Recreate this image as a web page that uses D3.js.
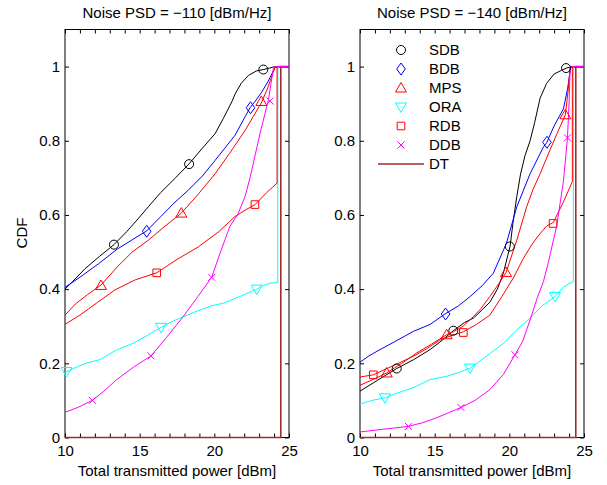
<!DOCTYPE html>
<html>
<head>
<meta charset="utf-8">
<script src="https://cdn.jsdelivr.net/npm/d3@7"></script>
<style>
  body { margin: 0; background: #fff; }
  text { font-family: "Liberation Sans", Arial, Helvetica, sans-serif; fill: #000; }
</style>
</head>
<body>
<div class="svg_area"></div>
<script>
// CDF of total transmitted power, two noise levels

// Tick values / labels
var xTicks = [10, 11, 12, 13, 14, 15, 16, 17, 18, 19, 20, 21, 22, 23, 24, 25];
var xTickLabels = [10, 15, 20, 25];
var yTicks = [0, 0.2, 0.4, 0.6, 0.8, 1];
var yTickLabels = ["0", "0.2", "0.4", "0.6", "0.8", "1"];
var seriesNames = ["SDB", "BDB", "MPS", "ORA", "RDB", "DDB", "DT"];

// ---- Noise PSD = -110 dBm/Hz ----
var sdb110 = [[10,0.40],[10.5,0.42],[11.34,0.455],[12.3,0.488],[13.28,0.52],[14.13,0.555],[14.9,0.59],[15.58,0.622],[16.4,0.66],[17.4,0.70],[18.31,0.738],[19.2,0.78],[20.05,0.819],[20.6,0.86],[21.17,0.905],[21.39,0.926],[21.8,0.955],[22.28,0.976],[22.8,0.988],[23.28,0.992],[23.7,0.996],[24.07,1],[25,1]];
var bdb110 = [[10,0.405],[11,0.432],[12.23,0.468],[13.5,0.508],[14.5,0.533],[15.47,0.557],[16.4,0.595],[17.3,0.632],[18.26,0.667],[19.2,0.705],[20.05,0.747],[20.7,0.78],[21.39,0.815],[22.06,0.865],[22.39,0.889],[22.8,0.91],[23.17,0.931],[23.6,0.96],[24.07,0.998],[25,1]];
var mps110 = [[10,0.33],[10.7,0.36],[11.5,0.385],[12.41,0.411],[13.5,0.46],[14.5,0.50],[15.58,0.532],[16.7,0.57],[17.77,0.604],[18.9,0.655],[20.05,0.711],[21.0,0.765],[21.39,0.788],[22.06,0.828],[22.6,0.865],[23.17,0.904],[23.6,0.945],[24.07,1],[25,1]];
var ora110 = [[10,0.175],[10.5,0.185],[11.4,0.20],[12.34,0.21],[13.4,0.235],[14.57,0.254],[15.5,0.275],[16.43,0.297],[17.3,0.315],[18.2,0.33],[19.04,0.344],[19.8,0.355],[20.6,0.362],[21.7,0.38],[22.84,0.40],[23.3,0.41],[23.73,0.416],[24.25,0.418],[24.25,1],[25,1]];
var rdb110 = [[10,0.305],[11,0.33],[12.2,0.365],[13.35,0.398],[14.7,0.425],[16.14,0.444],[17.5,0.48],[18.93,0.514],[20.3,0.555],[21.39,0.596],[22.06,0.613],[22.73,0.628],[23.5,0.66],[24.2,0.686],[24.2,1],[25,1]];
var ddb110 = [[10,0.068],[10.8,0.08],[11.83,0.10],[12.6,0.125],[13.46,0.156],[14.6,0.19],[15.76,0.22],[16.8,0.27],[17.88,0.324],[18.9,0.38],[19.82,0.432],[20.5,0.51],[21.05,0.57],[21.6,0.604],[22.06,0.65],[22.39,0.70],[23.06,0.82],[23.62,0.91],[23.95,0.994],[24.05,1],[25,1]];
var dt110 = [[10,0],[24.45,0],[24.45,1],[25,1]];

var sdbMarks110 = [[13.28,0.52],[18.31,0.737],[23.28,0.992]];
var bdbMarks110 = [[15.47,0.556],[22.42,0.889]];
var mpsMarks110 = [[12.41,0.41],[17.79,0.605],[23.15,0.906]];
var oraMarks110 = [[10.1,0.178],[16.43,0.297],[22.84,0.40]];
var rdbMarks110 = [[16.14,0.444],[22.72,0.628]];
var ddbMarks110 = [[11.83,0.10],[15.76,0.22],[19.82,0.432],[23.73,0.907]];

// ---- Noise PSD = -140 dBm/Hz ----
var sdb140 = [[10,0.125],[11.2,0.155],[12.46,0.186],[13.6,0.21],[14.69,0.237],[15.5,0.262],[16.25,0.288],[17.0,0.31],[17.6,0.322],[18.2,0.345],[18.7,0.365],[19.2,0.40],[19.6,0.443],[20.05,0.516],[20.25,0.58],[20.5,0.65],[20.75,0.71],[21.05,0.76],[21.39,0.80],[21.7,0.85],[22.06,0.915],[22.5,0.955],[23.0,0.98],[23.5,0.99],[23.84,0.996],[24.17,1],[25,1]];
var bdb140 = [[10,0.203],[10.6,0.22],[11.34,0.237],[12.4,0.26],[13.57,0.286],[14.7,0.305],[15.69,0.333],[16.6,0.355],[17.37,0.38],[18.2,0.41],[18.93,0.443],[19.8,0.523],[20.5,0.622],[21.39,0.711],[22.28,0.783],[22.5,0.795],[23.0,0.84],[23.62,0.886],[23.9,0.94],[24.11,0.998],[25,1]];
var mps140 = [[10,0.141],[10.8,0.155],[11.79,0.174],[12.8,0.20],[13.8,0.228],[14.8,0.252],[15.8,0.277],[16.25,0.285],[16.9,0.30],[17.59,0.326],[18.04,0.345],[18.7,0.38],[19.3,0.415],[19.78,0.445],[20.5,0.532],[21.16,0.622],[21.6,0.67],[22.06,0.711],[22.73,0.776],[23.2,0.82],[23.75,0.87],[23.95,0.94],[24.07,1],[25,1]];
var ora140 = [[10,0.09],[10.8,0.10],[11.67,0.107],[12.5,0.12],[13.6,0.135],[14.69,0.156],[15.8,0.165],[16.6,0.175],[17.37,0.187],[18.5,0.22],[19.6,0.254],[20.5,0.29],[21.39,0.322],[22.2,0.355],[23.06,0.38],[23.62,0.405],[24.0,0.415],[24.29,0.42],[24.29,1],[25,1]];
var rdb140 = [[10,0.163],[10.89,0.169],[12.3,0.195],[13.57,0.219],[14.5,0.24],[15.36,0.263],[16.2,0.276],[16.92,0.285],[17.8,0.305],[18.7,0.33],[19.5,0.38],[20.27,0.43],[20.9,0.48],[21.5,0.52],[22.06,0.55],[22.5,0.57],[22.95,0.58],[23.62,0.635],[24.22,0.69],[24.22,1],[25,1]];
var ddb140 = [[10,0.015],[11.5,0.022],[13.24,0.030],[14.2,0.04],[15.13,0.053],[16.0,0.068],[16.76,0.081],[17.7,0.10],[18.7,0.129],[19.6,0.17],[20.38,0.223],[20.9,0.26],[21.39,0.317],[21.9,0.38],[22.28,0.42],[22.6,0.47],[23.17,0.57],[23.62,0.69],[23.89,0.806],[24.0,0.9],[24.07,0.994],[24.1,1],[25,1]];
var dt140 = [[10,0],[24.45,0],[24.45,1],[25,1]];

var sdbMarks140 = [[12.46,0.186],[16.25,0.288],[20.03,0.515],[23.8,0.996]];
var bdbMarks140 = [[15.73,0.333],[22.52,0.796]];
var mpsMarks140 = [[11.79,0.174],[15.8,0.277],[19.78,0.445],[23.75,0.87]];
var oraMarks140 = [[11.67,0.107],[17.37,0.187],[23.06,0.38]];
var rdbMarks140 = [[10.89,0.169],[16.92,0.283],[22.93,0.577]];
var ddbMarks140 = [[13.24,0.03],[16.76,0.081],[20.38,0.223],[23.89,0.808]];

// Styles per series (same order as seriesNames)
var colors = ["#000000", "#0000ff", "#ff0000", "#00ffff", "#ff0000", "#ff00ff", "#a52a2a"];
var markers = ["circle", "diamond", "tri", "tridown", "square", "x", null];

// Define SVG area dimensions
var svgWidth = 607;
var svgHeight = 485;

var svg = d3.select(".svg_area")
  .append("svg")
  .attr("width", svgWidth)
  .attr("height", svgHeight);

// shared plot size
var plotTop = 29.5;
var plotBottom = 437.5;
var plotWidth = 224;

function markerPath(type) {
  if (type === "diamond") return "M0,-6L4.3,0L0,6L-4.3,0Z";
  if (type === "tri") return "M0,-5.5L5.5,4L-5.5,4Z";
  if (type === "tridown") return "M0,5.5L5.5,-4L-5.5,-4Z";
  if (type === "square") return "M-3.8,-3.8h7.6v7.6h-7.6Z";
  if (type === "x") return "M-3.5,-3.5L3.5,3.5M-3.5,3.5L3.5,-3.5";
  return null;
}

function drawPanel(left, title, lines, marks, showYLabel, showLegend) {
  var xScale = d3.scaleLinear().domain([10, 25]).range([left, left + plotWidth]);
  var yScale = d3.scaleLinear().domain([0, 1.1]).range([plotBottom, plotTop]);

  var g = svg.append("g");

  // frame
  g.append("rect")
    .attr("x", left)
    .attr("y", plotTop)
    .attr("width", plotWidth)
    .attr("height", plotBottom - plotTop)
    .attr("fill", "none")
    .attr("stroke", "#000")
    .attr("stroke-width", 1);

  // axes, ticks inward
  var bottomAxis = d3.axisBottom(xScale).tickValues(xTicks).tickSize(-4).tickPadding(8)
    .tickFormat(d => xTickLabels.indexOf(d) >= 0 ? d : "");
  var topAxis = d3.axisTop(xScale).tickValues(xTicks).tickSize(-4).tickFormat("");
  var leftAxis = d3.axisLeft(yScale).tickValues(yTicks).tickSize(-4).tickPadding(5)
    .tickFormat((d, i) => yTickLabels[i]);
  var rightAxis = d3.axisRight(yScale).tickValues(yTicks).tickSize(-4).tickFormat("");

  g.append("g").attr("transform", `translate(0, ${plotBottom})`).call(bottomAxis);
  g.append("g").attr("transform", `translate(0, ${plotTop})`).call(topAxis);
  g.append("g").attr("transform", `translate(${left}, 0)`).call(leftAxis);
  g.append("g").attr("transform", `translate(${left + plotWidth}, 0)`).call(rightAxis);

  g.selectAll(".domain").remove();
  g.selectAll(".tick line").attr("stroke", "#000");
  g.selectAll(".tick text")
    .style("font-size", "15px")
    .style("font-family", "'Liberation Sans', Arial, sans-serif")
    .attr("fill", "#000");

  // title + axis labels
  g.append("text")
    .attr("x", left + plotWidth / 2)
    .attr("y", 18)
    .attr("text-anchor", "middle")
    .style("font-size", "15px")
    .text(title);

  g.append("text")
    .attr("x", left + plotWidth / 2)
    .attr("y", 476)
    .attr("text-anchor", "middle")
    .style("font-size", "15px")
    .text("Total transmitted power [dBm]");

  if (showYLabel) {
    g.append("text")
      .attr("transform", "rotate(-90)")
      .attr("x", -233)
      .attr("y", 27)
      .attr("text-anchor", "middle")
      .style("font-size", "15px")
      .text("CDF");
  }

  var lineGen = d3.line()
    .x(d => xScale(d[0]))
    .y(d => yScale(d[1]));

  // DT first (drawn under the others), then SDB..DDB
  var order = [6, 0, 1, 2, 3, 4, 5];
  order.forEach(function(i) {
    g.append("path")
      .datum(lines[i])
      .attr("d", lineGen)
      .attr("fill", "none")
      .attr("stroke", colors[i])
      .attr("stroke-width", i === 6 ? 1.6 : 1);
  });

  // markers
  marks.forEach(function(pts, i) {
    pts.forEach(function(p) {
      var cx = xScale(p[0]);
      var cy = yScale(p[1]);
      if (markers[i] === "circle") {
        g.append("circle")
          .attr("cx", cx).attr("cy", cy).attr("r", 4.5)
          .attr("fill", "none").attr("stroke", colors[i]);
      } else {
        g.append("path")
          .attr("transform", `translate(${cx}, ${cy})`)
          .attr("d", markerPath(markers[i]))
          .attr("fill", "none").attr("stroke", colors[i]);
      }
    });
  });

  // legend (right panel only)
  if (showLegend) {
    var legendX = left + 41;
    seriesNames.forEach(function(name, i) {
      var ly = 50 + i * 19;
      if (markers[i] === "circle") {
        g.append("circle").attr("cx", legendX).attr("cy", ly).attr("r", 4.5)
          .attr("fill", "none").attr("stroke", colors[i]);
      } else if (markers[i]) {
        g.append("path")
          .attr("transform", `translate(${legendX}, ${ly})`)
          .attr("d", markerPath(markers[i]))
          .attr("fill", "none").attr("stroke", colors[i]);
      } else {
        g.append("line")
          .attr("x1", legendX - 23).attr("x2", legendX + 23)
          .attr("y1", ly).attr("y2", ly)
          .attr("stroke", colors[i]).attr("stroke-width", 1.6);
      }
      g.append("text")
        .attr("x", left + 69)
        .attr("y", ly)
        .attr("dy", "0.36em")
        .style("font-size", "15px")
        .text(name);
    });
  }
}

drawPanel(65, "Noise PSD = \u2212110 [dBm/Hz]",
  [sdb110, bdb110, mps110, ora110, rdb110, ddb110, dt110],
  [sdbMarks110, bdbMarks110, mpsMarks110, oraMarks110, rdbMarks110, ddbMarks110],
  true, false);

drawPanel(360, "Noise PSD = \u2212140 [dBm/Hz]",
  [sdb140, bdb140, mps140, ora140, rdb140, ddb140, dt140],
  [sdbMarks140, bdbMarks140, mpsMarks140, oraMarks140, rdbMarks140, ddbMarks140],
  false, true);
</script>
</body>
</html>
